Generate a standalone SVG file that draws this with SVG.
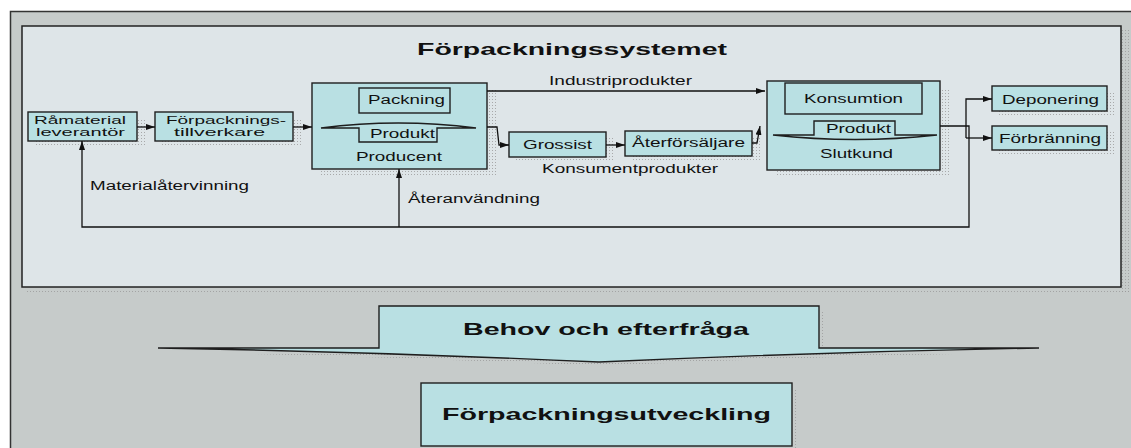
<svg xmlns="http://www.w3.org/2000/svg" width="1131" height="448" viewBox="0 0 1131 448">
<defs>
<pattern id="dots" width="3" height="3" patternUnits="userSpaceOnUse"><rect width="1" height="1" fill="#9a9a9a"/></pattern>
<marker id="arr" markerWidth="9" markerHeight="6" refX="9" refY="3" orient="auto" markerUnits="userSpaceOnUse"><path d="M0,0 L9,3 L0,6 z" fill="#111"/></marker>
<style>
.box{fill:#b9e0e3;stroke:#1e1e1e;stroke-width:1.4}
.sh{fill:url(#dots);opacity:0.8}
.t{font-family:"Liberation Sans",Arial,sans-serif;fill:#111;lengthAdjust:spacingAndGlyphs}
.s{font-size:12px}
.xs{font-size:10.5px}
.b{font-size:17px;font-weight:bold}
.c{fill:none;stroke:#111;stroke-width:1.3}
</style>
</defs>
<rect x="0" y="0" width="1131" height="448" fill="#ffffff"/>
<g id="frame">
<rect x="10.5" y="11.5" width="1125" height="445" fill="#c6cbca" stroke="#333" stroke-width="1.5"/>
<rect x="26" y="289" width="1105" height="5" class="sh"/>
<rect x="1122" y="30" width="9" height="262" class="sh"/>
<rect x="22" y="26" width="1099" height="261" fill="#dee5e8" stroke="#222" stroke-width="1.5"/>
<text class="t b" x="417" y="55" textLength="310" lengthAdjust="spacingAndGlyphs">Förpackningssystemet</text>
</g>
<g id="ramaterial">
<rect x="35" y="118" width="110" height="29" class="sh"/>
<rect x="28" y="112" width="109" height="29" class="box"/>
<text class="t xs" x="34" y="124" textLength="92" lengthAdjust="spacingAndGlyphs">Råmaterial</text>
<text class="t xs" x="36" y="136" textLength="89" lengthAdjust="spacingAndGlyphs">leverantör</text>
</g>
<g id="forpackningstillverkare">
<rect x="162" y="118" width="139" height="29" class="sh"/>
<rect x="155" y="112" width="138" height="29" class="box"/>
<text class="t xs" x="166" y="124" textLength="120" lengthAdjust="spacingAndGlyphs">Förpacknings-</text>
<text class="t xs" x="174" y="136" textLength="91" lengthAdjust="spacingAndGlyphs">tillverkare</text>
</g>
<g id="producent">
<rect x="320" y="89" width="177" height="86" class="sh"/>
<rect x="312" y="83" width="175" height="86" class="box"/>
<rect x="359" y="88" width="91" height="25" class="box"/>
<text class="t s" x="368" y="104" textLength="77" lengthAdjust="spacingAndGlyphs">Packning</text>
<path d="M321,128 Q398,118 476,128 H437 V142 H359 V128 Z" class="box"/>
<text class="t s" x="370" y="138" textLength="65" lengthAdjust="spacingAndGlyphs">Produkt</text>
<text class="t s" x="356" y="161" textLength="86" lengthAdjust="spacingAndGlyphs">Producent</text>
</g>
<g id="grossist">
<rect x="516" y="137" width="99" height="25" class="sh"/>
<rect x="509" y="132" width="97" height="25" class="box"/>
<text class="t s" x="523" y="149" textLength="69" lengthAdjust="spacingAndGlyphs">Grossist</text>
</g>
<g id="aterforsaljare">
<rect x="632" y="136" width="128" height="25" class="sh"/>
<rect x="625" y="131" width="127" height="25" class="box"/>
<text class="t s" x="632" y="147" textLength="113" lengthAdjust="spacingAndGlyphs">Återförsäljare</text>
</g>
<g id="slutkund">
<rect x="775" y="89" width="174" height="86" class="sh"/>
<rect x="767" y="81" width="173" height="89" class="box"/>
<rect x="785" y="83" width="137" height="31" class="box"/>
<text class="t s" x="804" y="103" textLength="99" lengthAdjust="spacingAndGlyphs">Konsumtion</text>
<path d="M773,135 H814 V121 H895 V135 H937 Q855,144 773,135 Z" class="box"/>
<text class="t s" x="826" y="133" textLength="65" lengthAdjust="spacingAndGlyphs">Produkt</text>
<text class="t s" x="820" y="158" textLength="73" lengthAdjust="spacingAndGlyphs">Slutkund</text>
</g>
<g id="deponering">
<rect x="999" y="92" width="117" height="25" class="sh"/>
<rect x="992" y="86" width="115" height="25" class="box"/>
<text class="t" font-size="13" x="1002" y="104" textLength="97" lengthAdjust="spacingAndGlyphs">Deponering</text>
</g>
<g id="forbranning">
<rect x="999" y="132" width="117" height="24" class="sh"/>
<rect x="992" y="126" width="115" height="24" class="box"/>
<text class="t" font-size="13" x="999" y="143" textLength="102" lengthAdjust="spacingAndGlyphs">Förbränning</text>
</g>
<g id="behov">
<path d="M160,352 Q380,356 599,366 Q820,356 1040,352 Z" class="sh"/>
<rect x="820" y="310" width="5" height="38" class="sh"/>
<path d="M379,306 H819 V348 H1039 Q820,352 599,362 Q380,352 158,348 H379 Z" class="box"/>
<text class="t b" x="463" y="335" textLength="286" lengthAdjust="spacingAndGlyphs">Behov och efterfråga</text>
</g>
<g id="forpackningsutveckling">
<rect x="793" y="389" width="5" height="59" class="sh"/>
<rect x="421" y="383" width="371" height="63" class="box"/>
<text class="t b" x="442" y="420" textLength="329" lengthAdjust="spacingAndGlyphs">Förpackningsutveckling</text>
</g>
<g id="connectors">
<path d="M137,127 H155" class="c" marker-end="url(#arr)"/>
<path d="M293,127 H312" class="c" marker-end="url(#arr)"/>
<path d="M487,91 H765" class="c" marker-end="url(#arr)"/>
<path d="M487,127 H497 L499,145 H509" class="c" marker-end="url(#arr)"/>
<path d="M606,145 H625" class="c" marker-end="url(#arr)"/>
<path d="M752,143 H757 L760,126" class="c" marker-end="url(#arr)"/>
<path d="M940,126 H969 V227 H82 V141" class="c" marker-end="url(#arr)"/>
<path d="M399,227 V169" class="c" marker-end="url(#arr)"/>
<path d="M966,138 V99 H992" class="c" marker-end="url(#arr)"/>
<path d="M966,138 H992" class="c" marker-end="url(#arr)"/>
<text class="t s" x="549" y="85" textLength="143" lengthAdjust="spacingAndGlyphs">Industriprodukter</text>
<text class="t s" x="542" y="173" textLength="176" lengthAdjust="spacingAndGlyphs">Konsumentprodukter</text>
<text class="t s" x="408" y="203" textLength="132" lengthAdjust="spacingAndGlyphs">Återanvändning</text>
<text class="t s" x="90" y="190" textLength="159" lengthAdjust="spacingAndGlyphs">Materialåtervinning</text>
</g>
</svg>
